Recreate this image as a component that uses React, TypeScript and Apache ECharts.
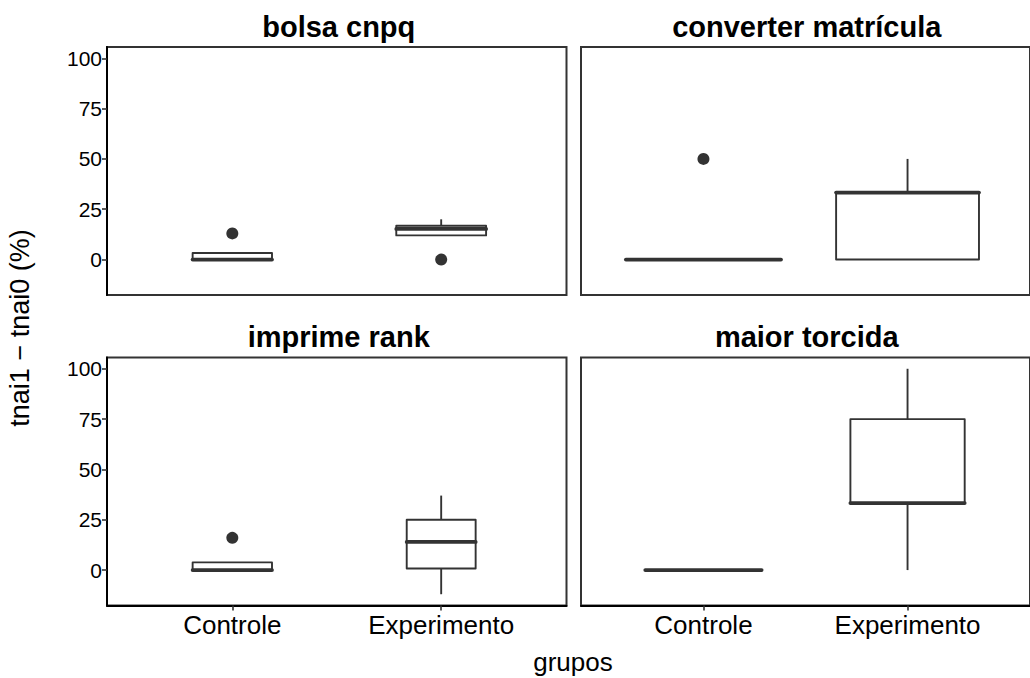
import React, { useEffect, useRef } from "react";
import * as echarts from "echarts";

// ---- data ----
const panels = ["bolsa cnpq", "converter matrícula", "imprime rank", "maior torcida"];
const groups = ["Controle", "Experimento"];
const yTicks = [0, 25, 50, 75, 100];

// box stats per panel: [groupIndex(1-based), low, q1, median, q3, high, relWidth]
const bolsaBoxes = [
  [1, 0, 0, 0, 3.3, 3.3, 0.38],
  [2, 12, 12, 15.2, 16.8, 20, 0.43],
];
const converterBoxes = [
  [1, 0, 0, 0, 0, 0, 0.76],
  [2, 0, 0, 33.3, 33.3, 50, 0.7],
];
const imprimeBoxes = [
  [1, 0, 0, 0, 3.8, 3.8, 0.38],
  [2, -12, 0.8, 14, 25, 37, 0.33],
];
const maiorBoxes = [
  [1, 0, 0, 0, 0, 0, 0.57],
  [2, 0, 33.3, 33.3, 75, 100, 0.56],
];
// outliers: [groupIndex, value]
const bolsaOutliers = [
  [1, 13],
  [2, 0],
];
const converterOutliers = [[1, 50]];
const imprimeOutliers = [[1, 16]];
const maiorOutliers: number[][] = [];

const boxesByPanel = [bolsaBoxes, converterBoxes, imprimeBoxes, maiorBoxes];
const outliersByPanel = [bolsaOutliers, converterOutliers, imprimeOutliers, maiorOutliers];

const FONT = "'Liberation Sans', Arial, Helvetica, sans-serif";
const INK = "#333333";

export default function App() {
  const ref = useRef<HTMLDivElement>(null);
  useEffect(() => {
    if (!ref.current) return;
    const chart = echarts.init(ref.current, null, { renderer: "svg" });

    const gridPos = [
      { left: 107, top: 47 },
      { left: 581, top: 47 },
      { left: 107, top: 357.5 },
      { left: 581, top: 357.5 },
    ];
    const W = 459.5;
    const H = 248;
    const titleShift = [2, -4, 2, -4];

    const grids = gridPos.map((p) => ({
      left: p.left,
      top: p.top,
      width: W,
      height: H,
      show: true,
      borderColor: INK,
      borderWidth: 2,
      backgroundColor: "#fff",
      containLabel: false,
    }));

    const xAxes = panels.map((_, i) => ({
      type: "value",
      gridIndex: i,
      min: 0.4,
      max: 2.6,
      splitLine: { show: false },
      axisLine: { show: i >= 2, onZero: false, lineStyle: { color: "#000", width: 2 } },
      axisTick: {
        show: i >= 2,
        customValues: [1, 2],
        length: 5,
        lineStyle: { color: INK, width: 1.6 },
      },
      axisLabel: {
        show: i >= 2,
        customValues: [1, 2],
        formatter: (v: number) => groups[Math.round(v) - 1] ?? "",
        color: "#000",
        fontSize: 26,
        fontFamily: FONT,
        margin: 6,
      },
    }));

    const yAxes = panels.map((_, i) => ({
      type: "value",
      gridIndex: i,
      min: -17.6,
      max: 105.6,
      splitLine: { show: false },
      axisLine: { show: i % 2 === 0, onZero: false, lineStyle: { color: "#000", width: 2 } },
      axisTick: {
        show: i % 2 === 0,
        customValues: yTicks,
        length: 5,
        lineStyle: { color: INK, width: 1.6 },
      },
      axisLabel: {
        show: i % 2 === 0,
        customValues: yTicks,
        color: "#000",
        fontSize: 21,
        fontFamily: FONT,
        margin: 5,
      },
    }));

    const boxSeries = boxesByPanel.map((boxes, i) => ({
      type: "custom",
      xAxisIndex: i,
      yAxisIndex: i,
      data: boxes,
      clip: false,
      renderItem: (params: any, api: any) => {
        const x = api.value(0);
        const low = api.value(1);
        const q1 = api.value(2);
        const med = api.value(3);
        const q3 = api.value(4);
        const high = api.value(5);
        const w = api.value(6);
        const left = api.coord([x - w / 2, q1]);
        const right = api.coord([x + w / 2, q3]);
        const c = api.coord([x, med]);
        const pLow = api.coord([x, low]);
        const pHigh = api.coord([x, high]);
        const pQ1 = api.coord([x, q1]);
        const pQ3 = api.coord([x, q3]);
        const lineStyle = { stroke: INK, lineWidth: 1.9, fill: null };
        const children: any[] = [];
        if (high > q3)
          children.push({
            type: "line",
            shape: { x1: pQ3[0], y1: pQ3[1], x2: pHigh[0], y2: pHigh[1] },
            style: lineStyle,
          });
        if (low < q1)
          children.push({
            type: "line",
            shape: { x1: pQ1[0], y1: pQ1[1], x2: pLow[0], y2: pLow[1] },
            style: lineStyle,
          });
        children.push({
          type: "rect",
          shape: {
            x: left[0],
            y: right[1],
            width: right[0] - left[0],
            height: left[1] - right[1],
          },
          style: { stroke: INK, lineWidth: 1.9, fill: "#fff", lineJoin: "round" },
        });
        children.push({
          type: "line",
          shape: { x1: left[0], y1: c[1], x2: right[0], y2: c[1] },
          style: { stroke: INK, lineWidth: 3.8, lineCap: "round" },
        });
        return { type: "group", children };
      },
    }));

    const outlierSeries = outliersByPanel.map((pts, i) => ({
      type: "scatter",
      xAxisIndex: i,
      yAxisIndex: i,
      data: pts,
      symbol: "circle",
      symbolSize: 12,
      itemStyle: { color: INK, opacity: 1 },
      z: 5,
    }));

    const graphics: any[] = panels.map((name, i) => ({
      type: "text",
      x: gridPos[i].left + W / 2 + titleShift[i],
      y: gridPos[i].top - 6,
      style: {
        text: name,
        fontSize: 29,
        fontWeight: "bold",
        fontFamily: FONT,
        fill: "#000",
        textAlign: "center",
        textVerticalAlign: "bottom",
      },
    }));
    graphics.push({
      type: "text",
      x: 573,
      y: 662,
      style: {
        text: "grupos",
        fontSize: 26,
        fontFamily: FONT,
        fill: "#000",
        textAlign: "center",
        textVerticalAlign: "middle",
      },
    });
    graphics.push({
      type: "text",
      x: 20,
      y: 328,
      rotation: Math.PI / 2,
      style: {
        text: "tnai1 \u2212 tnai0 (%)",
        fontSize: 27,
        fontFamily: FONT,
        fill: "#000",
        textAlign: "center",
        textVerticalAlign: "middle",
      },
    });

    chart.setOption({
      animation: false,
      backgroundColor: "#fff",
      grid: grids,
      xAxis: xAxes,
      yAxis: yAxes,
      series: [...boxSeries, ...outlierSeries],
      graphic: graphics,
    });
    return () => chart.dispose();
  }, []);

  return (
    <div
      ref={ref}
      style={{ position: "fixed", left: 0, top: 0, width: 1030, height: 678 }}
    />
  );
}
